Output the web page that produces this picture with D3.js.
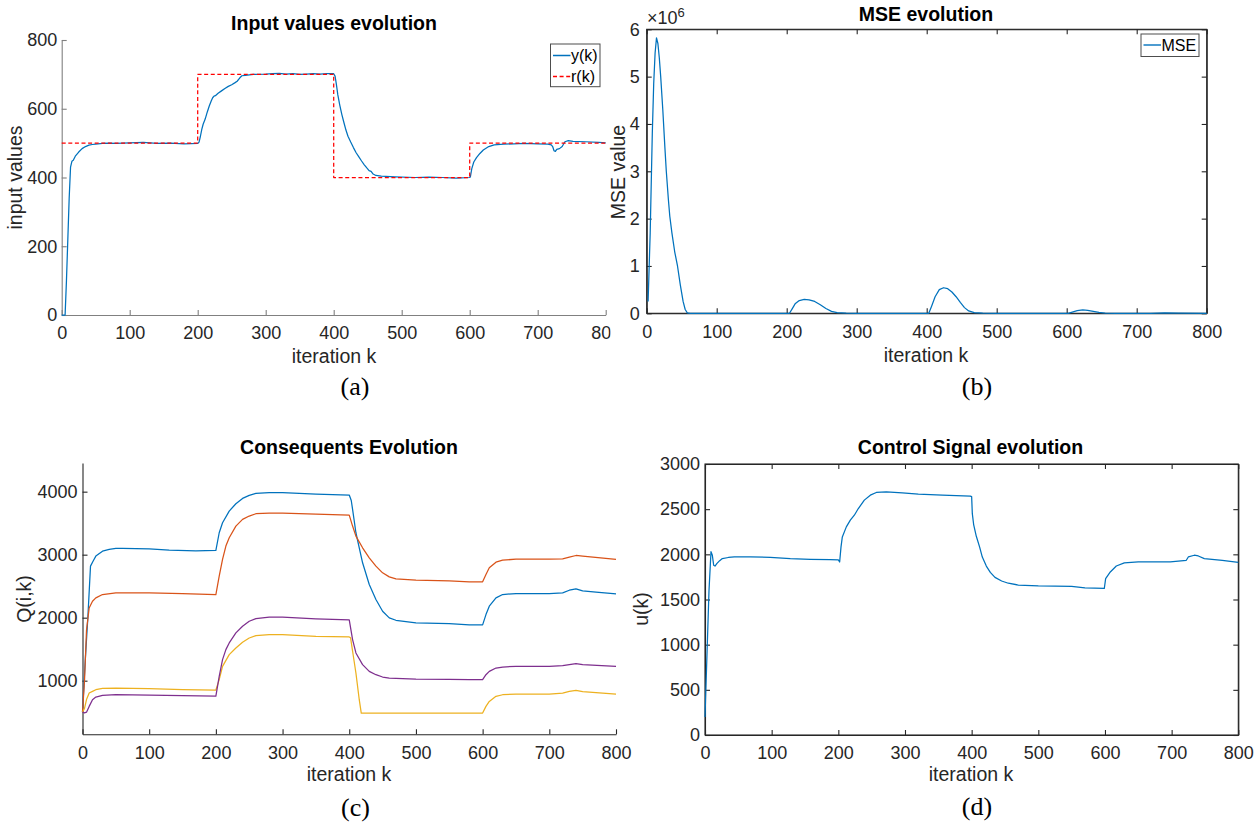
<!DOCTYPE html>
<html>
<head>
<meta charset="utf-8">
<script src="https://cdn.jsdelivr.net/npm/d3@7"></script>
<style>
  body { margin: 0; background: #fff; }
  svg { display: block; }
  text { font-family: "Liberation Sans", Arial, Helvetica, sans-serif; }
</style>
</head>
<body>
<svg id="fig" width="1258" height="825"></svg>
<script>
// ---------- data ----------
const iterTicks = [0, 100, 200, 300, 400, 500, 600, 700, 800];
const inputTicks = [0, 200, 400, 600, 800];
const mseTicks = [0, 1, 2, 3, 4, 5, 6];
const qTicks = [1000, 2000, 3000, 4000];
const uTicks = [0, 500, 1000, 1500, 2000, 2500, 3000];

// plant output y(k)
const outputY = [[0,0],[5,0],[7,100],[9,220],[11,340],[13,430],[15,447],[17,450],[20,462],[25,474],[30,484],[35,490],[40,494],[45,496],[50,497],[60,499],[70,500],[80,499],[100,501],[120,502],[140,499],[160,500],[180,498],[200,499],
  [202,503],[204,520],[206,540],[208,555],[211,570],[214,590],[217,608],[220,623],[222,632],[224,637],[226,638],[230,645],[235,652],[240,659],[245,665],[250,670],[255,676],[258,680],[262,690],[265,696],[270,697],[282,700],[300,701],[310,702],[320,703],[330,701],[340,702],[350,700],[360,701],[370,702],[380,701],[390,702],[400,702],
  [402,695],[404,670],[406,641],[409,610],[412,583],[415,560],[418,538],[421,520],[425,503],[429,487],[433,472],[437,460],[441,448],[445,437],[449,427],[452,420],[455,418],[458,410],[462,406],[470,404],[490,402],[520,400],[540,401],[560,400],[580,398],[600,400],
  [601,402],[603,425],[606,445],[610,458],[615,470],[620,480],[628,490],[636,495],[650,497],[665,498],[680,499],[700,498],[715,497],[720,495],[722,490],[724,478],[726,476],[728,482],[732,484],[736,490],[740,504],[745,507],[752,505],[770,504],[790,502],[800,501]];

// reference r(k), piecewise constant
const reference = [[0,500],[200,700],[400,400],[600,500],[800,500]];

// mean squared error, in units of 1e6
const mse = [[2,0.25],[5,1.7],[8,3.8],[10,4.85],[12,5.5],[14,5.82],[16,5.7],[18,5.4],[20,5.0],[23,4.3],[26,3.5],[28,3.0],[31,2.4],[33,2.05],[36,1.7],[40,1.3],[44,1.0],[48,0.6],[52,0.25],[55,0.08],[58,0.01],[62,0],[100,0],[150,0],[204,0],
  [208,0.1],[212,0.2],[218,0.27],[225,0.295],[232,0.285],[240,0.25],[248,0.18],[256,0.1],[264,0.04],[272,0.012],[285,0.002],[300,0],[350,0],[403,0],
  [407,0.15],[412,0.35],[418,0.5],[424,0.54],[430,0.52],[436,0.45],[442,0.35],[448,0.23],[454,0.12],[460,0.05],[468,0.015],[480,0.003],[500,0],[550,0],[602,0],
  [608,0.025],[615,0.055],[623,0.07],[630,0.062],[638,0.04],[646,0.018],[655,0.005],[670,0],[720,0],[740,0.008],[760,0.004],[800,0]];

// rule consequents Q(i,k)
const q1 = [[0,500],[4,1300],[8,2000],[12,2818],[16,2900],[20,2977],[30,3056],[40,3085],[50,3099],[60,3100],[100,3093],[130,3072],[170,3061],[200,3067],
  [205,3348],[210,3506],[220,3692],[230,3808],[240,3893],[250,3941],[260,3973],[280,3983],[300,3983],[350,3962],[400,3946],
  [403,3860],[405,3719],[410,3348],[420,2871],[430,2526],[440,2288],[450,2102],[460,1996],[470,1959],[500,1917],[550,1906],[580,1885],[600,1885],
  [605,2049],[610,2182],[620,2314],[630,2367],[650,2383],[700,2383],[720,2394],[730,2436],[740,2457],[750,2425],[770,2404],[800,2378]];
const q2 = [[0,500],[3,1000],[6,1800],[10,2155],[15,2261],[20,2314],[30,2367],[50,2394],[100,2394],[150,2383],[200,2367],
  [205,2659],[210,2924],[215,3136],[220,3268],[230,3454],[240,3560],[250,3613],[260,3650],[280,3660],[300,3660],[350,3644],[400,3628],
  [405,3454],[410,3295],[420,3109],[430,2950],[440,2818],[450,2712],[460,2648],[470,2616],[500,2595],[550,2585],[580,2569],[600,2569],
  [605,2685],[610,2791],[620,2881],[630,2913],[650,2929],[700,2929],[720,2934],[730,2961],[740,2987],[750,2977],[800,2924]];
const q3 = [[0,500],[3,560],[6,700],[10,804],[15,830],[20,857],[30,878],[50,883],[100,873],[150,857],[200,852],
  [205,1016],[210,1228],[220,1413],[230,1519],[240,1609],[250,1678],[260,1715],[280,1731],[300,1731],[350,1705],[400,1694],
  [402,1680],[406,1400],[410,1122],[415,698],[418,486],[420,486],[500,486],[600,486],
  [605,592],[610,671],[620,751],[630,777],[650,788],[700,788],[720,804],[730,830],[740,846],[750,825],[800,788]];
const q4 = [[0,500],[3,490],[6,500],[10,592],[15,698],[20,740],[30,767],[50,777],[100,772],[150,762],[200,756],
  [205,1069],[210,1334],[215,1493],[220,1599],[230,1758],[240,1864],[250,1943],[260,1986],[280,2007],[300,2007],[350,1980],[400,1964],
  [405,1652],[410,1440],[420,1254],[430,1148],[440,1095],[450,1058],[460,1042],[500,1026],[550,1021],[580,1016],[600,1016],
  [605,1095],[610,1148],[620,1201],[630,1217],[650,1228],[700,1228],[720,1238],[730,1254],[740,1270],[750,1254],[800,1228]];

// control signal u(k)
const control = [[0,200],[3,900],[6,1600],[9,2030],[11,1990],[13,1880],[15,1870],[18,1900],[22,1930],[26,1953],[35,1965],[44,1971],[68,1971],[98,1967],[128,1953],[158,1945],[188,1941],[200,1938],
  [202,1915],[204,2080],[206,2193],[212,2304],[218,2378],[224,2433],[230,2507],[239,2600],[248,2655],[257,2685],[272,2692],[296,2681],[320,2666],[356,2655],[398,2644],[400,2638],
  [401,2450],[403,2330],[407,2200],[412,2080],[416,1970],[422,1870],[428,1800],[435,1745],[445,1705],[455,1680],[470,1660],[500,1650],[550,1645],[570,1630],[599,1622],
  [601,1731],[608,1805],[617,1871],[629,1905],[650,1916],[698,1916],[722,1934],[725,1971],[734,1990],[740,1982],[749,1953],[776,1934],[800,1912]];

// ---------- drawing ----------
const svg = d3.select("#fig");
const ink = "#262626";
const blue = "#0072BD", orange = "#D95319", yellow = "#EDB120", purple = "#7E2F8E", red = "#FF0000";
const intFmt = d3.format("d");
const defs = svg.append("defs");

function styleAxis(sel, color) {
  sel.select(".domain").attr("stroke", color).attr("stroke-width", 1.1);
  sel.selectAll(".tick line").attr("stroke", color).attr("stroke-width", 1.1);
  sel.selectAll(".tick text").attr("fill", ink).style("font-size", "18px");
}

function drawPanel(p) {
  const g = svg.append("g");
  if (p.clipRight) {
    defs.append("clipPath").attr("id", p.id + "-clip")
      .append("rect").attr("x", 0).attr("y", 0).attr("width", p.clipRight).attr("height", 825);
    g.attr("clip-path", `url(#${p.id}-clip)`);
  }
  const x = d3.scaleLinear().domain([0, 800]).range(p.xr);
  const y = d3.scaleLinear().domain(p.yd).range(p.yr);

  if (p.box) {
    g.append("rect").attr("x", p.xr[0]).attr("y", p.yr[1])
      .attr("width", p.xr[1] - p.xr[0]).attr("height", p.yr[0] - p.yr[1])
      .attr("fill", "none").attr("stroke", p.axisColor).attr("stroke-width", 1.1);
    const top = g.append("g").attr("transform", `translate(0,${p.yr[1]})`)
      .call(d3.axisTop(x).tickValues(iterTicks).tickSizeInner(-5).tickSizeOuter(0).tickFormat(""));
    styleAxis(top, p.axisColor);
    const right = g.append("g").attr("transform", `translate(${p.xr[1]},0)`)
      .call(d3.axisRight(y).tickValues(p.yTicks).tickSizeInner(-5).tickSizeOuter(0).tickFormat(""));
    styleAxis(right, p.axisColor);
  }
  const bottom = g.append("g").attr("transform", `translate(0,${p.yr[0]})`)
    .call(d3.axisBottom(x).tickValues(iterTicks).tickFormat(intFmt)
      .tickSizeInner(-5).tickSizeOuter(0).tickPadding(11.5));
  styleAxis(bottom, p.axisColor);
  const left = g.append("g").attr("transform", `translate(${p.xr[0]},0)`)
    .call(d3.axisLeft(y).tickValues(p.yTicks).tickFormat(intFmt)
      .tickSizeInner(-5).tickSizeOuter(0).tickPadding(p.yPad));
  styleAxis(left, p.axisColor);

  p.series.forEach(s => {
    const l = d3.line().curve(s.step ? d3.curveStepAfter : d3.curveLinear)
      .x(d => x(d[0])).y(d => y(d[1]));
    g.append("path").datum(s.data).attr("d", l)
      .attr("fill", "none").attr("stroke", s.color).attr("stroke-width", 1.25)
      .attr("stroke-dasharray", s.dash || null).attr("stroke-linejoin", "round");
  });

  g.append("text").attr("x", p.title[1]).attr("y", p.title[2]).attr("text-anchor", "middle")
    .style("font-size", "19.5px").style("font-weight", "bold").attr("fill", "#000").text(p.title[0]);
  g.append("text").attr("x", p.xlab[0]).attr("y", p.xlab[1]).attr("text-anchor", "middle")
    .style("font-size", "19.5px").attr("fill", ink).text("iteration k");
  g.append("text").attr("transform", `translate(${p.ylab[1]},${p.ylab[2]}) rotate(-90)`)
    .attr("text-anchor", "middle").style("font-size", "19.5px").attr("fill", ink).text(p.ylab[0]);

  svg.append("text").attr("x", p.sub[1]).attr("y", p.sub[2]).attr("text-anchor", "middle")
    .style("font-family", "'Liberation Serif', 'Times New Roman', serif").style("font-size", "26px")
    .attr("fill", "#000").text(p.sub[0]);
  return { g, x, y };
}

function legend(g, bx, by, bw, bh, items) {
  g.append("rect").attr("x", bx).attr("y", by).attr("width", bw).attr("height", bh)
    .attr("fill", "#fff").attr("stroke", "#4d4d4d").attr("stroke-width", 1);
  items.forEach(it => {
    const cy = by + it.dy;
    g.append("line").attr("x1", bx + 2.5).attr("x2", bx + 20).attr("y1", cy).attr("y2", cy)
      .attr("stroke", it.color).attr("stroke-width", 1.4).attr("stroke-dasharray", it.dash || null);
    g.append("text").attr("x", bx + 20.5).attr("y", cy + 5.8).style("font-size", "16px")
      .attr("fill", "#000").text(it.label);
  });
}

// (a) input values
const pa = drawPanel({
  id: "pa", xr: [61.7, 605.7], yd: [0, 800], yr: [315, 40], yTicks: inputTicks, yPad: 4.5,
  axisColor: "#808080", box: false, clipRight: 610.5,
  series: [
    { data: outputY, color: blue },
    { data: reference, color: red, dash: "4,2.6", step: true }
  ],
  title: ["Input values evolution", 334, 30], xlab: [334, 362.5], ylab: ["input values", 22, 177.5],
  sub: ["(a)", 355, 395]
});
legend(pa.g, 550.5, 44, 49.5, 42.7, [
  { label: "y(k)", color: blue, dy: 11.5 },
  { label: "r(k)", color: red, dash: "4,2.6", dy: 32.5 }
]);

// (b) MSE
const pb = drawPanel({
  id: "pb", xr: [646.7, 1206.7], yd: [0, 6], yr: [313.3, 29.3], yTicks: mseTicks, yPad: 7,
  axisColor: ink, box: true,
  series: [{ data: mse, color: blue }],
  title: ["MSE evolution", 926, 20.5], xlab: [926, 362], ylab: ["MSE value", 625, 172],
  sub: ["(b)", 977, 395]
});
legend(pb.g, 1141, 34, 58, 22.5, [{ label: "MSE", color: blue, dy: 11 }]);
const expo = pb.g.append("text").attr("x", 647).attr("y", 24).style("font-size", "18px").attr("fill", ink);
expo.append("tspan").text("\u00d710");
expo.append("tspan").attr("dy", -7).style("font-size", "13px").text("6");

// (c) consequents
drawPanel({
  id: "pc", xr: [82.5, 616], yd: [149, 4455], yr: [734.3, 463], yTicks: qTicks, yPad: 5,
  axisColor: ink, box: false,
  series: [
    { data: q1, color: blue }, { data: q2, color: orange },
    { data: q3, color: yellow }, { data: q4, color: purple }
  ],
  title: ["Consequents Evolution", 349, 454], xlab: [349, 780.5], ylab: ["Q(i,k)", 31, 599],
  sub: ["(c)", 355.5, 816]
});

// (d) control signal
drawPanel({
  id: "pd", xr: [705, 1238.3], yd: [0, 3000], yr: [735, 464], yTicks: uTicks, yPad: 5,
  axisColor: ink, box: true,
  series: [{ data: control, color: blue }],
  title: ["Control Signal evolution", 970.5, 454], xlab: [971, 781], ylab: ["u(k)", 648, 609],
  sub: ["(d)", 977, 815]
});
</script>
</body>
</html>
